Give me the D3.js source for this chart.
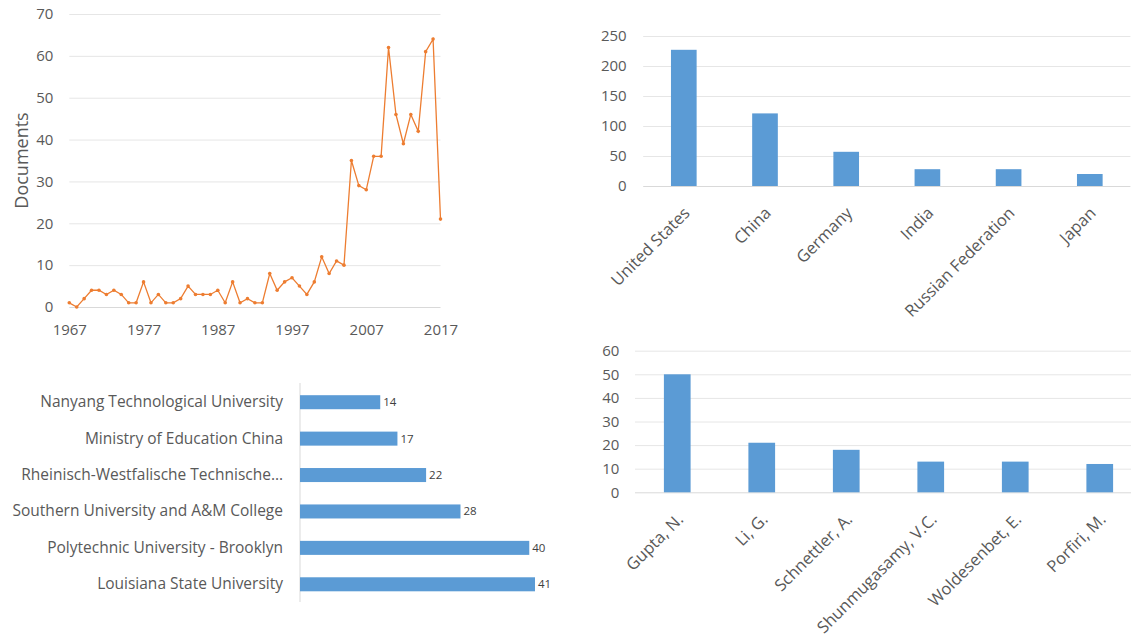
<!DOCTYPE html>
<html>
<head>
<meta charset="utf-8">
<script src="https://cdn.jsdelivr.net/npm/d3@7"></script>
<style>
  body { margin: 0; background: #fff; }
  svg { display: block; font-family: "Open Sans", sans-serif; }
</style>
</head>
<body>
<svg id="chart" width="1131" height="634"></svg>
<script>
// documents per year, 1967 - 2017
const years = d3.range(1967, 2018);
const documents = [
  1, 0, 2, 4, 4, 3, 4, 3, 1, 1, 6, 1, 3, 1, 1, 2, 5, 3, 3, 3, 4,
  1, 6, 1, 2, 1, 1, 8, 4, 6, 7, 5, 3, 6, 12, 8, 11, 10,
  35, 29, 28, 36, 36, 62, 46, 39, 46, 42, 61, 64, 21,
];
const yearTicks = [1967, 1977, 1987, 1997, 2007, 2017];

const countries = ["United States", "China", "Germany", "India", "Russian Federation", "Japan"];
const countryDocs = [227, 121, 57, 28, 28, 20];

const affiliations = [
  "Nanyang Technological University",
  "Ministry of Education China",
  "Rheinisch-Westfalische Technische\u2026",
  "Southern University and A&M College",
  "Polytechnic University - Brooklyn",
  "Louisiana State University",
];
const affiliationDocs = [14, 17, 22, 28, 40, 41];

const authors = ["Gupta, N.", "Li, G.", "Schnettler, A.", "Shunmugasamy, V.C.", "Woldesenbet, E.", "Porfiri, M."];
const authorDocs = [50, 21, 18, 13, 13, 12];

const textColor = "#595959";
const gridColor = "#e6e6e6";
const baseColor = "#d9d9d9";
const barColor = "#5b9bd5";
const lineColor = "#ed7d31";

const svg = d3.select("#chart");

svg.append("rect")
  .attr("width", 1131)
  .attr("height", 634)
  .attr("fill", "#fff");

function styleAxis(g, size) {
  g.select(".domain").remove();
  g.selectAll(".tick line").attr("stroke", gridColor);
  g.selectAll(".tick text")
    .attr("fill", textColor)
    .attr("font-size", size)
    .attr("font-family", "Open Sans, sans-serif");
}

// ---- line chart: documents by year ----
const x = d3.scaleLinear().domain([1967, 2017]).range([69.3, 440.5]);
const y = d3.scaleLinear().domain([0, 70]).range([307, 14]);

const lineChart = svg.append("g").attr("id", "documents-by-year");

lineChart.append("g")
  .attr("transform", `translate(${x.range()[0]},0)`)
  .call(d3.axisLeft(y).tickValues(d3.range(0, 71, 10)).tickSize(-(x.range()[1] - x.range()[0])).tickPadding(16))
  .call((g) => styleAxis(g, 15))
  .call((g) => g.selectAll(".tick").filter((d) => d === 0).select("line").attr("stroke", baseColor));

lineChart.append("g")
  .attr("transform", `translate(0,${y(0)})`)
  .call(d3.axisBottom(x).tickValues(yearTicks).tickFormat(d3.format("d")).tickSize(0).tickPadding(17))
  .call((g) => styleAxis(g, 15));

lineChart.append("text")
  .attr("transform", `translate(23,${(y(0) + y(70)) / 2}) rotate(-90)`)
  .attr("text-anchor", "middle")
  .attr("dominant-baseline", "middle")
  .attr("fill", textColor)
  .attr("font-size", 18)
  .text("Documents");

const points = years.map((yr, i) => ({ year: yr, value: documents[i] }));

lineChart.append("path")
  .datum(points)
  .attr("fill", "none")
  .attr("stroke", lineColor)
  .attr("stroke-width", 1.3)
  .attr("d", d3.line().x((d) => x(d.year)).y((d) => y(d.value)));

lineChart.append("g")
  .selectAll("circle")
  .data(points)
  .join("circle")
  .attr("cx", (d) => x(d.year))
  .attr("cy", (d) => y(d.value))
  .attr("r", 1.8)
  .attr("fill", lineColor);

// ---- vertical bar charts ----
function columnChart(id, names, values, xRange, yRange, yMax, yStep, labelPad) {
  const g = svg.append("g").attr("id", id);
  const xs = d3.scaleBand().domain(names).range(xRange).paddingInner(0.684).paddingOuter(0.342);
  const ys = d3.scaleLinear().domain([0, yMax]).range(yRange);

  g.append("g")
    .attr("transform", `translate(${xRange[0]},0)`)
    .call(d3.axisLeft(ys).tickValues(d3.range(0, yMax + 1, yStep)).tickSize(-(Math.min(xRange[1], 1131) - xRange[0])).tickPadding(labelPad))
    .call((a) => styleAxis(a, 15))
    .call((a) => a.selectAll(".tick").filter((d) => d === 0).select("line").attr("stroke", baseColor));

  g.append("g")
    .selectAll("rect")
    .data(names)
    .join("rect")
    .attr("x", (d) => xs(d))
    .attr("y", (d, i) => ys(values[i]))
    .attr("width", xs.bandwidth())
    .attr("height", (d, i) => ys(0) - ys(values[i]))
    .attr("fill", barColor);

  g.append("g")
    .attr("transform", `translate(0,${ys(0)})`)
    .call(d3.axisBottom(xs).tickSize(0))
    .call((a) => styleAxis(a, 16.5))
    .call((a) =>
      a.selectAll(".tick text")
        .attr("x", 0)
        .attr("y", 0)
        .attr("dy", "0.35em")
        .attr("text-anchor", "end")
        .attr("transform", "translate(3,24) rotate(-45)")
    );
}

columnChart("countries", countries, countryDocs, [643.2, 1130.4], [186, 36], 250, 50, 16.5);
columnChart("authors", authors, authorDocs, [635, 1142], [492.3, 350.7], 60, 10, 15.7);

// ---- horizontal bar chart: affiliations ----
const hx = d3.scaleLinear().domain([0, 41]).range([300, 535]);
const hy = d3.scaleBand().domain(affiliations).range([384, 602.5]).paddingInner(0.615).paddingOuter(0.3075);

const barChart = svg.append("g").attr("id", "affiliations");

barChart.append("line")
  .attr("x1", hx(0))
  .attr("x2", hx(0))
  .attr("y1", 383)
  .attr("y2", 602)
  .attr("stroke", baseColor);

barChart.append("g")
  .attr("transform", `translate(${hx(0)},0)`)
  .call(d3.axisLeft(hy).tickSize(0).tickPadding(17))
  .call((g) => styleAxis(g, 15.5));

barChart.append("g")
  .selectAll("rect")
  .data(affiliations)
  .join("rect")
  .attr("x", hx(0))
  .attr("y", (d) => hy(d))
  .attr("width", (d, i) => hx(affiliationDocs[i]) - hx(0))
  .attr("height", hy.bandwidth())
  .attr("fill", barColor);

barChart.append("g")
  .selectAll("text")
  .data(affiliations)
  .join("text")
  .attr("x", (d, i) => hx(affiliationDocs[i]) + 3)
  .attr("y", (d) => hy(d) + hy.bandwidth() / 2)
  .attr("dy", "0.35em")
  .attr("fill", "#404040")
  .attr("font-size", 11.5)
  .text((d, i) => affiliationDocs[i]);
</script>
</body>
</html>
